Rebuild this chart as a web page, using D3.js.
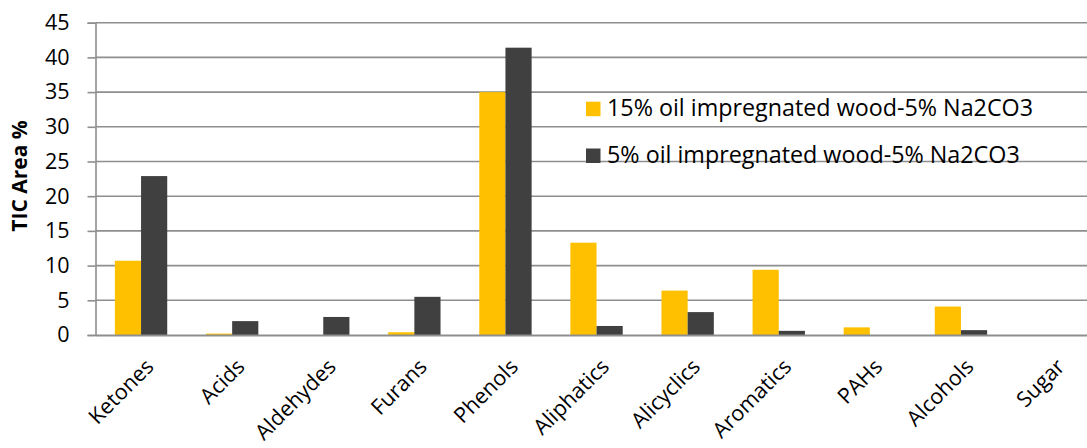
<!DOCTYPE html>
<html>
<head>
<meta charset="utf-8">
<script src="https://cdn.jsdelivr.net/npm/d3@7"></script>
<style>
  html, body { margin: 0; padding: 0; background: #fff; }
  svg { display: block; font-family: "Open Sans", sans-serif; }
</style>
</head>
<body>
<svg id="chart" width="1087" height="448"></svg>
<script>
// Compound classes identified in the bio-oil
const categories = ["Ketones", "Acids", "Aldehydes", "Furans", "Phenols", "Aliphatics",
  "Alicyclics", "Aromatics", "PAHs", "Alcohols", "Sugar"];

const seriesNames = ["15% oil impregnated wood-5% Na2CO3", "5% oil impregnated wood-5% Na2CO3"];
const seriesColors = ["#FFC000", "#404040"];

// TIC area % per class
const oil15 = [10.7, 0.2, 0, 0.4, 35.0, 13.3, 6.4, 9.4, 1.1, 4.1, 0];
const oil5  = [22.9, 2.0, 2.6, 5.5, 41.4, 1.3, 3.3, 0.6, 0, 0.7, 0];

const yTicks = [0, 5, 10, 15, 20, 25, 30, 35, 40, 45];
const yTitle = "TIC Area %";

const series = [oil15, oil5];

const svg = d3.select("#chart");

const plot = { left: 95.5, right: 1097.6, top: 22.7, bottom: 335 };

const x0 = d3.scaleBand().domain(categories).range([plot.left, plot.right]).padding(0);
const x1 = d3.scaleBand().domain(d3.range(series.length))
  .range([0, x0.bandwidth()]).paddingInner(0).paddingOuter(0.74);
const y = d3.scaleLinear().domain([0, 45]).range([plot.bottom, plot.top]);

// Horizontal gridlines
svg.append("g").selectAll("line").data(yTicks.filter(d => d > 0)).join("line")
  .attr("x1", plot.left).attr("x2", 1087)
  .attr("y1", d => y(d)).attr("y2", d => y(d))
  .attr("stroke", "#8e8e8e").attr("stroke-width", 1.6);

// Bars
const groups = svg.append("g").selectAll("g").data(categories).join("g")
  .attr("transform", d => `translate(${x0(d)},0)`);

groups.selectAll("rect")
  .data((d, i) => series.map((s, k) => ({ k, v: s[i] })))
  .join("rect")
  .attr("x", d => x1(d.k))
  .attr("width", x1.bandwidth())
  .attr("y", d => y(d.v))
  .attr("height", d => y(0) - y(d.v))
  .attr("fill", d => seriesColors[d.k]);

// Y axis
const yAxis = d3.axisLeft(y).tickValues(yTicks).tickSize(8).tickPadding(18);
const yg = svg.append("g").attr("transform", `translate(${plot.left},0)`).call(yAxis);
yg.select(".domain").attr("stroke", "#8e8e8e").attr("stroke-width", 1.6);
yg.selectAll(".tick line").attr("stroke", "#8e8e8e").attr("stroke-width", 1.6);
yg.selectAll(".tick text")
  .attr("font-family", "'Open Sans', sans-serif")
  .attr("font-size", 21.5).attr("fill", "#000");

// X axis baseline
const xAxis = d3.axisBottom(x0).tickSize(0).tickFormat("");
const xg = svg.append("g").attr("transform", `translate(0,${plot.bottom})`).call(xAxis);
xg.select(".domain").attr("stroke", "#8e8e8e").attr("stroke-width", 2);

// Rotated category labels
svg.append("g").selectAll("text").data(categories).join("text")
  .attr("transform", d => `translate(${x0(d) + x0.bandwidth() / 2 + 3},357) rotate(-45)`)
  .attr("text-anchor", "end")
  .attr("dy", "0.72em")
  .attr("font-size", 21.5)
  .attr("fill", "#000")
  .text(d => d);

// Y axis title
svg.append("text")
  .attr("transform", `translate(27,176) rotate(-90)`)
  .attr("text-anchor", "middle")
  .attr("font-size", 21)
  .attr("font-weight", "bold")
  .attr("fill", "#000")
  .text(yTitle);

// Legend
const legend = svg.append("g").attr("transform", "translate(586,0)");
const legendRows = [108.7, 155.5];
seriesNames.forEach((name, k) => {
  legend.append("rect")
    .attr("x", 0).attr("y", legendRows[k] - 7)
    .attr("width", 14.5).attr("height", 14.5)
    .attr("fill", seriesColors[k]);
  legend.append("text")
    .attr("x", 21).attr("y", legendRows[k] + 7.5)
    .attr("font-size", 23.3)
    .attr("fill", "#000")
    .text(name);
});
</script>
</body>
</html>
